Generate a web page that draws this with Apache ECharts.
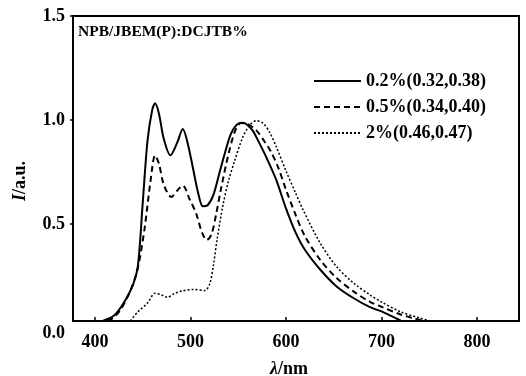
<!DOCTYPE html>
<html><head><meta charset="utf-8">
<script src="https://cdn.jsdelivr.net/npm/echarts@6/dist/echarts.min.js"></script>
<style>html,body{margin:0;padding:0;background:#fff}#c{width:526px;height:376px}</style>
</head><body><div id="c"></div>
<script>
const xTicks = [400, 500, 600, 700, 800];
const yTicks = [0, 0.5, 1.0, 1.5];
const titleText = 'NPB/JBEM(P):DCJTB%';
const seriesNames = ['0.2%(0.32,0.38)', '0.5%(0.34,0.40)', '2%(0.46,0.47)'];

const lambda02 = [408, 420, 430, 440, 445, 450, 455, 460, 463, 467, 472, 479, 486, 492, 497, 503, 508, 513, 518, 524, 530, 536, 542, 548, 553, 558, 565, 572, 580, 590, 600, 610, 620, 636, 653, 671, 688, 700, 710, 720];
const value02  = [0.034, 0.06, 0.12, 0.21, 0.30, 0.60, 0.90, 1.05, 1.08, 1.03, 0.91, 0.83, 0.89, 0.957, 0.89, 0.76, 0.65, 0.585, 0.59, 0.64, 0.74, 0.84, 0.93, 0.975, 0.987, 0.982, 0.95, 0.89, 0.815, 0.71, 0.575, 0.46, 0.375, 0.28, 0.20, 0.143, 0.10, 0.08, 0.058, 0.036];

const lambda05 = [413, 420, 428, 438, 445, 452, 458, 463, 467, 472, 480, 486, 492, 499, 506, 512, 517, 522, 527, 532, 540, 547, 553, 560, 569, 577, 584, 592, 600, 610, 620, 636, 653, 671, 688, 700, 720, 735, 742];
const value05  = [0.034, 0.052, 0.096, 0.19, 0.29, 0.48, 0.70, 0.83, 0.79, 0.69, 0.63, 0.66, 0.685, 0.62, 0.55, 0.46, 0.423, 0.45, 0.55, 0.67, 0.84, 0.95, 0.985, 0.98, 0.95, 0.90, 0.85, 0.77, 0.665, 0.545, 0.44, 0.327, 0.24, 0.175, 0.126, 0.102, 0.065, 0.045, 0.036];

const lambda2 = [437, 445, 455, 463, 469, 476, 483, 491, 503, 515, 520, 524, 528, 534, 540, 546, 555, 562, 569, 576, 583, 590, 600, 610, 618, 636, 653, 671, 688, 700, 720, 740, 750];
const value2  = [0.034, 0.078, 0.12, 0.167, 0.16, 0.148, 0.165, 0.178, 0.185, 0.18, 0.21, 0.30, 0.43, 0.59, 0.71, 0.80, 0.92, 0.975, 0.997, 0.985, 0.94, 0.87, 0.755, 0.65, 0.567, 0.407, 0.295, 0.215, 0.159, 0.125, 0.078, 0.048, 0.036];

const zip = (xs, ys) => xs.map((x, i) => [x, ys[i]]);
const FONT = 'Liberation Serif';
const chart = echarts.init(document.getElementById('c'), null, {renderer: 'canvas'});
const lineSeries = (name, xs, ys, type, width) => ({
  name: name, type: 'line', xAxisIndex: 0, yAxisIndex: 0,
  data: zip(xs, ys), smooth: 0.3, symbol: 'none', showSymbol: false,
  lineStyle: {color: '#000', width: width, type: type},
  itemStyle: {color: '#000'}, silent: true
});
chart.setOption({
  animation: false,
  backgroundColor: '#fff',
  textStyle: {fontFamily: FONT, color: '#000'},
  title: {
    text: titleText, left: 78, top: 24, padding: 0,
    textStyle: {fontFamily: FONT, fontWeight: 'bold', fontSize: 15.5, color: '#000'}
  },
  legend: {
    orient: 'vertical', left: 313, top: 72, padding: 0,
    itemWidth: 47, itemHeight: 18, itemGap: 8,
    itemStyle: {opacity: 0},
    textStyle: {fontFamily: FONT, fontWeight: 'bold', fontSize: 18, color: '#000'},
    data: seriesNames
  },
  grid: [
    {left: 73, right: 7, top: 16, bottom: 48, containLabel: false, outerBoundsMode: 'none'},
    {left: 73, right: 7, top: 16, bottom: 55, outerBoundsMode: 'none', show: true, borderColor: '#000', borderWidth: 2, backgroundColor: 'transparent'}
  ],
  xAxis: [
    {
      gridIndex: 0, type: 'value', min: 377, max: 844, offset: -7,
      axisLine: {show: false},
      axisTick: {show: true, inside: true, length: 4, customValues: xTicks, lineStyle: {color: '#000', width: 1.5}},
      axisLabel: {customValues: xTicks, margin: 12, fontFamily: FONT, fontWeight: 'bold', fontSize: 18, color: '#000'},
      splitLine: {show: false},
      name: '{i|λ}/nm', nameLocation: 'middle', nameGap: 39,
      nameTextStyle: {fontFamily: FONT, fontWeight: 'bold', fontSize: 18, color: '#000', padding: [0, 14, 0, 0],
        rich: {i: {fontFamily: FONT, fontStyle: 'italic', fontWeight: 'bold', fontSize: 18, color: '#000'}}}
    },
    {gridIndex: 1, type: 'value', min: 377, max: 844, show: false}
  ],
  yAxis: [
    {
      gridIndex: 0, type: 'value', min: 0, max: 1.5,
      axisLine: {show: false},
      axisTick: {show: true, inside: false, length: 3, customValues: [0.5, 1.0, 1.5], lineStyle: {color: '#000', width: 1.5}},
      axisLabel: {customValues: yTicks, margin: 8, fontFamily: FONT, fontWeight: 'bold', fontSize: 18, color: '#000',
        formatter: v => v === 0 ? '{z|0.0}' : v.toFixed(1),
        rich: {z: {fontFamily: FONT, fontWeight: 'bold', fontSize: 18, color: '#000', padding: [10, 0, 0, 0]}}},
      splitLine: {show: false},
      name: '{i|I}/a.u.', nameLocation: 'middle', nameGap: 44,
      nameTextStyle: {fontFamily: FONT, fontWeight: 'bold', fontSize: 18, color: '#000', padding: [0, 18, 0, 0],
        rich: {i: {fontFamily: FONT, fontStyle: 'italic', fontWeight: 'bold', fontSize: 18, color: '#000'}}}
    },
    {gridIndex: 1, type: 'value', min: 0, max: 1, show: false}
  ],
  series: [
    lineSeries(seriesNames[0], lambda02, value02, 'solid', 2),
    lineSeries(seriesNames[1], lambda05, value05, [6, 4], 2),
    lineSeries(seriesNames[2], lambda2, value2, [2, 2], 1.5)
  ]
});
</script></body></html>
